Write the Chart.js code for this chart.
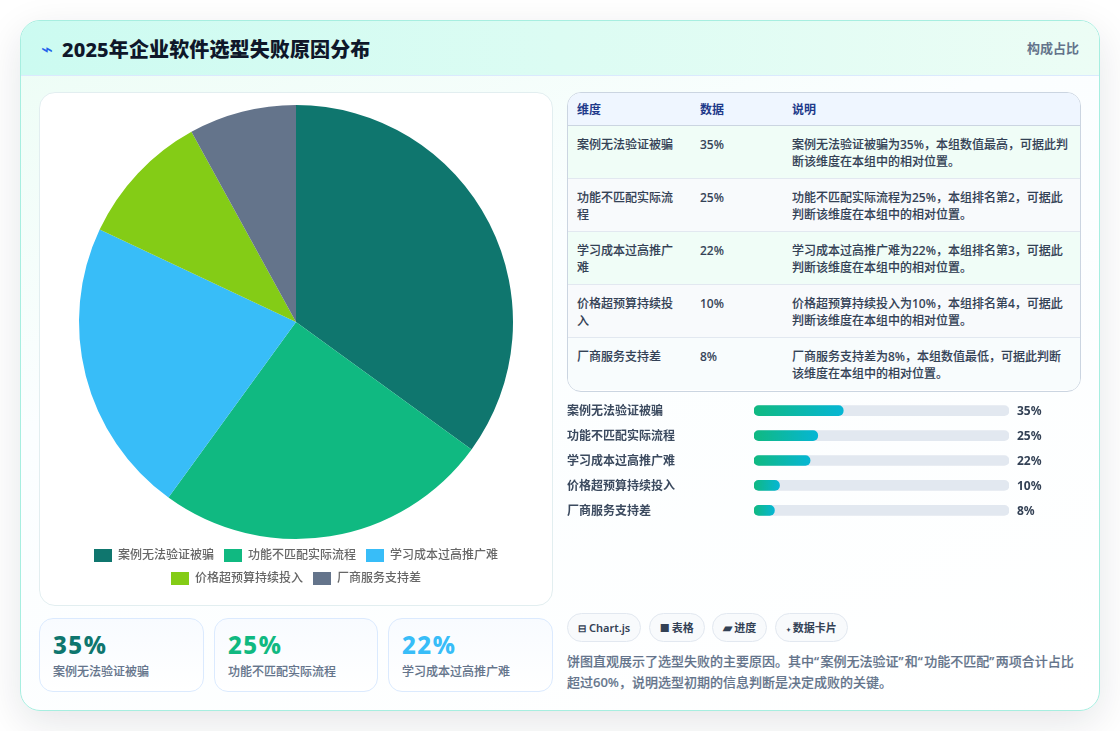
<!DOCTYPE html>
<html lang="zh">
<head>
<meta charset="utf-8">
<title>2025年企业软件选型失败原因分布</title>
<script src="https://cdn.jsdelivr.net/npm/chart.js@4/dist/chart.umd.min.js"></script>
<style>
  * { box-sizing: border-box; }
  html, body { margin: 0; width: 1120px; height: 731px; overflow: hidden; background: #fff; }
  body { font-family: "Noto Sans", "Noto Sans CJK SC", sans-serif; color: #0f172a; }
  .card {
    position: absolute; left: 20px; top: 20px; width: 1080px; height: 691px;
    border: 1px solid #a7eee0; border-radius: 20px; overflow: hidden;
    background: linear-gradient(160deg, #ecfdf5 0%, #fbfeff 38%, #ffffff 100%);
  }
  .shadow {
    position: absolute; left: 20px; top: 20px; width: 1080px; height: 691px;
    border-radius: 20px; box-shadow: 0 12px 40px rgba(15, 23, 42, .11);
  }
  .head {
    position: absolute; left: 0; top: 0; right: 0; height: 55px;
    background: linear-gradient(90deg, #ccfbf1, #ecfdf5);
    border-bottom: 1px solid #dbeafe;
  }
  .head .ico { position: absolute; left: 20px; top: 17px; font-size: 20px; line-height: 22px; color: #2563eb; }
  .head h1 { position: absolute; left: 41px; top: 15px; margin: 0; font-size: 20px; line-height: 28px; font-weight: 800; letter-spacing: .13px; }
  .head .tag { position: absolute; right: 20px; top: 17px; font-size: 13px; line-height: 20px; font-weight: 600; color: #64748b; }
  .pie-box {
    position: absolute; left: 18px; top: 71px; width: 514px; height: 514px;
    background: #fff; border: 1px solid #e2eef0; border-radius: 16px; padding: 12px;
  }
  .pie-box canvas { display: block; }
  .stat {
    position: absolute; top: 597px; height: 74px; padding: 11px 13px;
    background: linear-gradient(180deg, #f8fbff, #fff);
    border: 1px solid #dbeafe; border-radius: 14px;
  }
  .stat b { display: block; font-size: 24px; line-height: 30px; font-weight: 800; letter-spacing: 1.5px; }
  .stat span { display: block; margin-top: 3px; font-size: 12px; line-height: 18px; color: #64748b; font-weight: 500; -webkit-text-stroke: .1px #64748b; }
  .tbl {
    position: absolute; left: 546px; top: 71px; width: 514px; height: 300px;
    border: 1px solid #cbd5e1; border-radius: 14px; overflow: hidden; background: #fff;
  }
  table { border-collapse: collapse; width: 100%; table-layout: fixed; font-size: 12px; line-height: 17.5px; color: #334155; }
  th { height: 32px; padding: 2px 9px 0; text-align: left; font-weight: 600; color: #1e3a8a; background: #eff6ff; border-bottom: 1px solid #cbd5e1; }
  td { height: 53px; padding: 10px 9px 6px; vertical-align: top; border-bottom: 1px solid #e2e8f0; font-weight: 500; -webkit-text-stroke: .1px #334155; }
  tbody tr:last-child td { border-bottom: 0; }
  tbody tr:nth-child(odd) td { background: #f0fdf7; }
  tbody tr:nth-child(even) td { background: #f8fafc; }
  tbody tr:last-child td { background: #f8fcfd; }
  .bars { position: absolute; left: 546px; top: 370px; width: 515px; height: 139px; }
  .chips { position: absolute; left: 546px; top: 592px; display: flex; gap: 7.5px; }
  .chip {
    height: 29px; padding: 0 10px; border: 1px solid #e2e8f0; border-radius: 15px; background: #f8fafc;
    font-size: 11px; line-height: 27px; font-weight: 600; color: #334155; white-space: nowrap;
  }
  .chip i { display: inline-block; font-style: normal; text-align: center; margin-right: 3px; }
  .note { position: absolute; left: 546px; top: 630px; width: 510px; margin: 0; font-size: 13px; line-height: 20.8px; font-weight: 500; color: #64748b; -webkit-text-stroke: .15px #64748b; }
  .note q { quotes: none; letter-spacing: 1.4px; }
</style>
</head>
<body>
<div class="shadow"></div>
<div class="card">
  <div class="head">
    <span class="ico">⌁</span>
    <h1>2025年企业软件选型失败原因分布</h1>
    <span class="tag">构成占比</span>
  </div>
  <div class="pie-box"><canvas id="pie" width="488" height="490"></canvas></div>
  <div id="stats"></div>
  <div class="tbl"><table id="tbl"></table></div>
  <div class="bars"><canvas id="bars" width="515" height="139"></canvas></div>
  <div class="chips" id="chips"></div>
  <p class="note">饼图直观展示了选型失败的主要原因。其中“案例无法验证”和“功能不匹配”两项合计占比超过60%，说明选型初期的信息判断是决定成败的关键。</p>
</div>
<script>
const labels = ['案例无法验证被骗', '功能不匹配实际流程', '学习成本过高推广难', '价格超预算持续投入', '厂商服务支持差'];
const values = [35, 25, 22, 10, 8];
const colors = ['#0f766e', '#10b981', '#38bdf8', '#84cc16', '#64748b'];
const notes = [
  '案例无法验证被骗为35%，本组数值最高，可据此判断该维度在本组中的相对位置。',
  '功能不匹配实际流程为25%，本组排名第2，可据此判断该维度在本组中的相对位置。',
  '学习成本过高推广难为22%，本组排名第3，可据此判断该维度在本组中的相对位置。',
  '价格超预算持续投入为10%，本组排名第4，可据此判断该维度在本组中的相对位置。',
  '厂商服务支持差为8%，本组数值最低，可据此判断该维度在本组中的相对位置。'
];
const chipIcons = ['⊟', '■', '▰', '✦'];
const chipTexts = ['Chart.js', '表格', '进度', '数据卡片'];
const chipIconSize = [10, 10, 12, 6];
const chipIconWidth = [8, 9, 8, 4];
const tableHead = ['维度', '数据', '说明'];
const statLeft = [18, 193, 367];
const statWidth = [165, 164, 165];

const fontFamily = '"Noto Sans", "Noto Sans CJK SC", sans-serif';

// stat cards
document.getElementById('stats').innerHTML = labels.slice(0, 3).map((l, i) =>
  `<div class="stat" style="left:${statLeft[i]}px;width:${statWidth[i]}px"><b style="color:${colors[i]}">${values[i]}%</b><span>${l}</span></div>`
).join('');

// table
document.getElementById('tbl').innerHTML =
  '<colgroup><col style="width:123px"><col style="width:92px"><col></colgroup>' +
  '<thead><tr>' + tableHead.map(h => `<th>${h}</th>`).join('') + '</tr></thead>' +
  '<tbody>' + labels.map((l, i) => `<tr><td>${l}</td><td>${values[i]}%</td><td>${notes[i]}</td></tr>`).join('') + '</tbody>';

document.getElementById('chips').innerHTML = chipTexts.map((t, i) =>
  `<span class="chip"><i style="font-size:${chipIconSize[i]}px;width:${chipIconWidth[i]}px">${chipIcons[i]}</i>${t}</span>`
).join('');

// the quotes run a little wider in the original
const note = document.querySelector('.note');
note.innerHTML = note.innerHTML.replace(/[“”]/g, m => `<q>${m}</q>`);

new Chart(document.getElementById('pie'), {
  type: 'pie',
  data: {
    labels: labels,
    datasets: [{ data: values, backgroundColor: colors, borderWidth: 0 }],
  },
  options: {
    responsive: false,
    animation: false,
    plugins: {
      tooltip: { enabled: false },
      legend: {
        position: 'bottom',
        labels: { boxWidth: 18, boxHeight: 13, padding: 10, color: '#666', font: { family: fontFamily, size: 12, weight: 500 } },
      },
    },
  },
});

// percent text at the end of each track
const valueLabels = {
  id: 'valueLabels',
  afterDatasetsDraw(chart) {
    const { ctx, scales } = chart;
    ctx.save();
    ctx.font = '700 12px ' + fontFamily;
    ctx.fillStyle = '#334155';
    ctx.textBaseline = 'middle';
    values.forEach((v, i) => ctx.fillText(v + '%', scales.x.right + 8, scales.y.getPixelForValue(i) + 1));
    ctx.restore();
  },
};

const fillGrad = ctx => {
  const x = ctx.chart.scales.x;
  const x0 = x.getPixelForValue(0);
  const x1 = x.getPixelForValue(values[ctx.dataIndex]);
  if (!Number.isFinite(x0) || !Number.isFinite(x1)) return '#10b981'; // scale not laid out yet
  const g = ctx.chart.ctx.createLinearGradient(x0, 0, x1, 0);
  g.addColorStop(0, '#10b981');
  g.addColorStop(1, '#06b6d4');
  return g;
};

new Chart(document.getElementById('bars'), {
  type: 'bar',
  plugins: [valueLabels],
  data: {
    labels: labels,
    datasets: [
      { data: values, backgroundColor: fillGrad, borderRadius: 5, borderSkipped: false, barThickness: 10, grouped: false, order: 1 },
      { data: values.map(() => 100), backgroundColor: '#e2e8f0', borderRadius: 5, borderSkipped: false, barThickness: 10, grouped: false, order: 2 },
    ],
  },
  options: {
    indexAxis: 'y',
    responsive: false,
    animation: false,
    layout: { padding: { right: 73 } },
    plugins: { legend: { display: false }, tooltip: { enabled: false } },
    scales: {
      x: { min: 0, max: 100, display: false },
      y: {
        afterFit(scale) { scale.width = 187; },
        grid: { display: false },
        border: { display: false },
        ticks: { crossAlign: 'far', padding: 0, labelOffset: 1, color: '#3b4a5f', font: { family: fontFamily, size: 12, weight: 600 } },
      },
    },
  },
});
</script>
</body>
</html>
